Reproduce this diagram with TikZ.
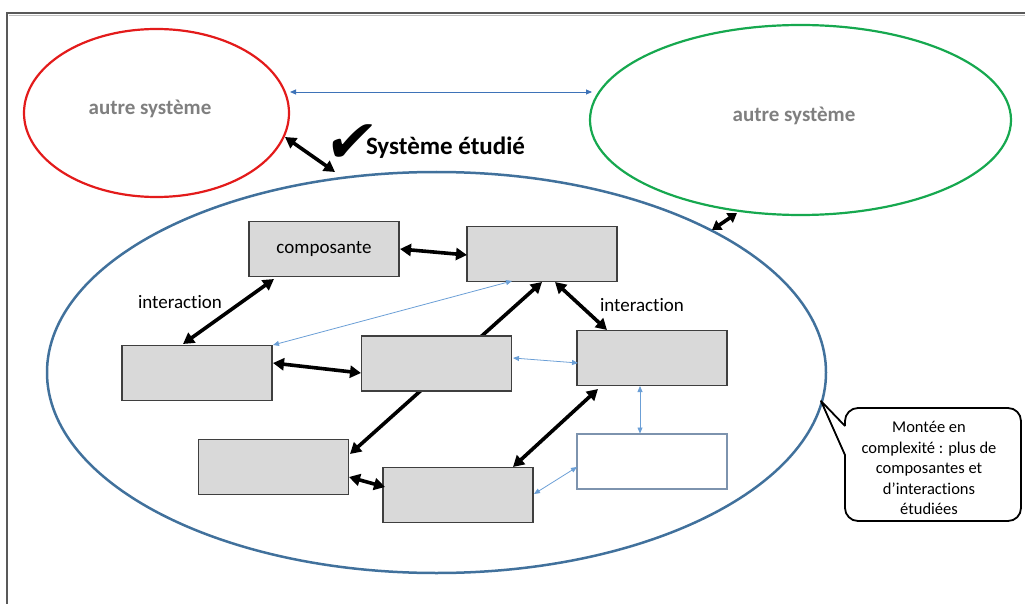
\documentclass[tikz,border=0pt]{standalone}
\usepackage{fontspec}
\setmainfont{Carlito}[Ligatures={NoCommon,NoContextual}]
\newfontfamily\symfont{DejaVu Sans}
\usetikzlibrary{arrows.meta,shapes.geometric,calc}
\pgfdeclarelayer{bg}
\pgfsetlayers{bg,main}
\definecolor{framegray}{HTML}{595959}
\definecolor{boxfill}{HTML}{D9D9D9}
\definecolor{boxline}{HTML}{3F3F3F}
\definecolor{sysblue}{HTML}{41719C}
\definecolor{thinblue}{HTML}{6B9FD6}
\definecolor{topblue}{HTML}{3E73B8}
\definecolor{redc}{HTML}{E31B1B}
\definecolor{greenc}{HTML}{16A84F}
\definecolor{txtgray}{HTML}{7F7F7F}
\definecolor{hbox}{HTML}{7D93AE}
\tikzset{
  compbox/.style={rectangle, draw=boxline, fill=boxfill, line width=1.2pt, inner sep=0pt, minimum width=150pt, minimum height=55pt},
  bigarrow/.style={line width=3.6pt, {Triangle[length=11pt,width=12pt]}-{Triangle[length=11pt,width=12pt]}},
  thinarrow/.style={draw=thinblue, line width=0.8pt, {Triangle[length=6pt,width=5pt]}-{Triangle[length=6pt,width=5pt]}},
  sysell/.style={ellipse, line width=2.2pt, inner sep=0pt},
  othertxt/.style={text=txtgray, font=\fontsize{21}{25}\selectfont\bfseries},
  lbl/.style={font=\fontsize{19}{23}\selectfont}
}
\begin{document}
\begin{tikzpicture}[x=1pt,y=-1pt]
\useasboundingbox (0,0) rectangle (1025,604);
% frame
\draw[draw=black!25, line width=1pt] (9,15.5) -- (1025,15.5);
\draw[draw=framegray, line width=2pt] (7,604) -- (7,13) -- (1025,13);

% ellipses
\node[sysell, draw=redc, minimum width=265pt, minimum height=168pt] (R) at (156.5,113) {};
\node[othertxt] (Rt) at (150,109) {autre système};
\node[sysell, draw=greenc, minimum width=421pt, minimum height=190pt] (Gn) at (800.5,120) {};
\node[othertxt] (Gt) at (794,116) {autre système};
\node[sysell, draw=sysblue, line width=2.5pt, minimum width=779pt, minimum height=401pt] (S) at (436.5,372.5) {};

% title
\node[font=\symfont\fontsize{60}{64}\selectfont, inner sep=0pt, xslant=0.15] (chk) at (351,144) {✔};
\node[font=\fontsize{25}{30}\selectfont\bfseries, inner sep=0pt] (title) at (445.5,148) {Système étudié};

% boxes
\node[compbox] (A) at (324,249) {\fontsize{19}{23}\selectfont composante};
\node[compbox] (B) at (542,254) {};
\node[compbox] (C) at (197,373) {};
\node[compbox] (D) at (436.5,363.5) {};
\node[compbox] (E) at (652,358) {};
\node[compbox] (F) at (273.5,467) {};
\node[compbox] (G) at (458,495) {};
\node[compbox, fill=white, draw=hbox] (H) at (652,461.5) {};

% labels
\node[lbl] (i1) at (180,302) {interaction};
\node[lbl] (i2) at (642,305) {interaction};

% system-level arrows
\draw[draw=topblue, line width=0.9pt, {Triangle[length=6pt,width=5pt]}-{Triangle[length=6pt,width=5pt]}]
  ($(R.center)+(133.5,-21)$) -- ($(Gn.center)+(-208.5,-28)$);
\draw[bigarrow] ($(R.center)+(128.5,24)$) -- ($(S.center)+(-101.5,-200.5)$);
\draw[bigarrow, {Triangle[length=9pt,width=11pt]}-{Triangle[length=9pt,width=11pt]}] ($(S.center)+(275.5,-142.5)$) -- ($(Gn.center)+(-63.5,93)$);

% component arrows
\begin{pgfonlayer}{bg}
\draw[bigarrow] ($(B.center)+(0,28)$) -- ($(F.center)+(76.5,-13)$);
\end{pgfonlayer}
\draw[bigarrow] ($(A.center)+(76,0)$) -- ($(B.center)+(-75,1)$);
\draw[bigarrow] ($(A.center)+(-50,30)$) -- ($(C.center)+(-14,-29)$);
\draw[bigarrow] ($(C.center)+(76,-10)$) -- ($(D.center)+(-75.5,9.5)$);
\draw[bigarrow] ($(B.center)+(13,28)$) -- ($(E.center)+(-45,-28)$);
\draw[bigarrow] ($(E.center)+(-54,31)$) -- ($(G.center)+(55,-28)$);
\draw[bigarrow] ($(F.center)+(75.5,10)$) -- ($(G.center)+(-73,-8)$);

\draw[thinarrow] ($(C.center)+(76,-28)$) -- ($(B.center)+(-30,27)$);
\draw[thinarrow] ($(D.center)+(76.5,-5.5)$) -- ($(E.center)+(-74,5)$);
\draw[thinarrow] ($(E.center)+(-12,28)$) -- ($(H.center)+(-12,-28)$);
\draw[thinarrow] ($(G.center)+(76,-1)$) -- ($(H.center)+(-75,5.5)$);

% callout
\node[align=center, font=\fontsize{16.5}{20.5}\selectfont, inner sep=0pt] (note) at (929,468)
  {Montée en\\complexité~: plus de\\composantes et\\d’interactions\\étudiées};
\draw[line width=1.8pt, line join=round] (845,426) [sharp corners] -- (821,401) -- (845,455)
  [rounded corners=13pt] -- (845,521) -- (1021,521) -- (1021,408) -- (845,408) -- (845,426);
\end{tikzpicture}
\end{document}
